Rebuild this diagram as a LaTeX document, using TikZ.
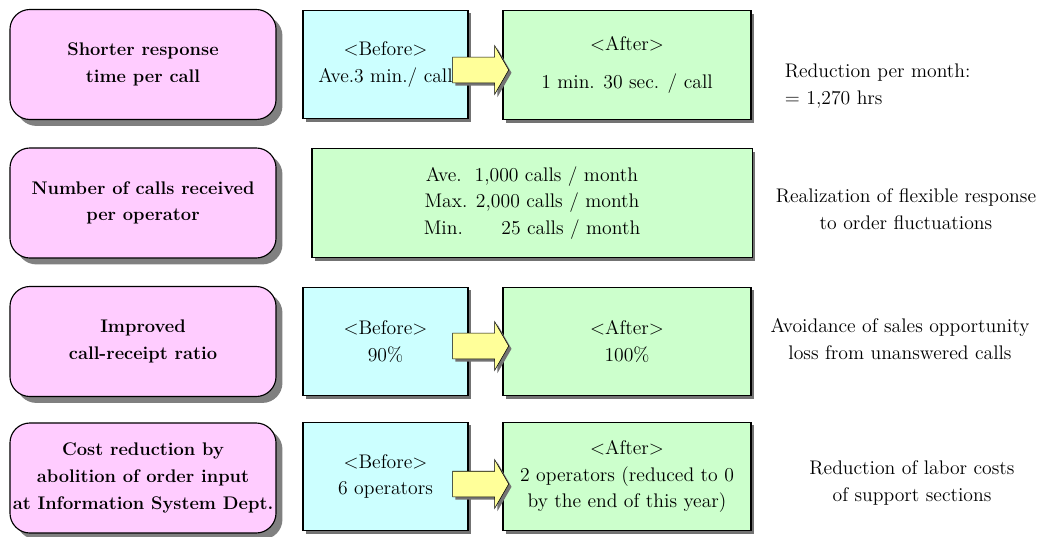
\documentclass[tikz,border=0pt]{standalone}
\usepackage{tikz}
\usetikzlibrary{shapes.arrows,shadows}

\definecolor{goalpink}{RGB}{255,204,255}
\definecolor{beforeblue}{RGB}{204,255,255}
\definecolor{aftergreen}{RGB}{204,255,204}
\definecolor{arrowyellow}{RGB}{255,255,153}
\newcommand{\txtsize}{\fontsize{14}{19}\selectfont}
\newcommand{\goalsize}{\fontsize{13}{19}\selectfont}

\begin{document}
\begin{tikzpicture}[x=0.025cm,y=-0.025cm,
		goal/.style={rectangle,rounded corners=0.5cm,draw,thick,fill=goalpink,inner xsep=1pt,
			minimum width=6.65cm,minimum height=2.75cm,align=center,font=\goalsize\bfseries,
			drop shadow={shadow xshift=0.16cm,shadow yshift=-0.16cm,fill=black!50,opacity=1}},
		before/.style={rectangle,draw,thick,fill=beforeblue,
			minimum width=4.125cm,minimum height=2.72cm,align=center,font=\txtsize,
			drop shadow={shadow xshift=0.08cm,shadow yshift=-0.08cm,fill=black!55,opacity=1}},
		after/.style={rectangle,draw,thick,fill=aftergreen,
			minimum width=6.2cm,minimum height=2.72cm,align=center,font=\txtsize,
			drop shadow={shadow xshift=0.08cm,shadow yshift=-0.08cm,fill=black!55,opacity=1}},
		change/.style={single arrow,draw,fill=arrowyellow,inner xsep=0pt,inner ysep=0.3125cm,
			single arrow head extend=0.29cm,single arrow tip angle=120,minimum height=1.4cm,
			drop shadow={shadow xshift=0.07cm,shadow yshift=-0.07cm,fill=black!55,opacity=1}},
		effect/.style={align=center,font=\txtsize}]
		\useasboundingbox (0,0) rectangle (1049,537);
%		\draw[help lines,step=50] (0,0) grid (1049,537);

		% response time
		\path (143,64.5) node(goal1) [goal] {Shorter response\\ time per call};
		\path (385.5,64.5) node(before1) [before] {<Before>\\ Ave.3 min./ call};
		\path (627,65) node(after1) [after] {<After>\\[8pt] 1 min. 30 sec. / call};
		\path (477,70) node(change1) [change] {};
		\path (780,86) node(effect1) [effect,anchor=west,align=left] {Reduction per month:\\ = 1,270 hrs};

		% calls per operator
		\path (143,203) node(goal2) [goal] {Number of calls received\\ per operator};
		\path (532,203) node(after2) [after,minimum width=11cm] {Ave.\ \ 1,000 calls / month\\ Max. 2,000 calls / month\\ Min.\ \ \ \ \ \ 25 calls / month};
		\path (906,209) node(effect2) [effect] {Realization of flexible response\\ to order fluctuations};

		% call-receipt ratio
		\path (143,341.5) node(goal3) [goal] {Improved\\ call-receipt ratio};
		\path (385.5,341.5) node(before3) [before] {<Before>\\ 90\%};
		\path (627,341.5) node(after3) [after] {<After>\\ 100\%};
		\path (477,346) node(change3) [change] {};
		\path (900,339) node(effect3) [effect] {Avoidance of sales opportunity\\ loss from unanswered calls};

		% order input
		\path (143,478) node(goal4) [goal] {Cost reduction by\\ abolition of order input\\ at Information System Dept.};
		\path (385.5,476.5) node(before4) [before] {<Before>\\ 6 operators};
		\path (627,476.5) node(after4) [after] {<After>\\ 2 operators (reduced to 0\\ by the end of this year)};
		\path (477,484) node(change4) [change] {};
		\path (912,483) node(effect4) [effect] {Reduction of labor costs\\ of support sections};
	\end{tikzpicture}
\end{document}
